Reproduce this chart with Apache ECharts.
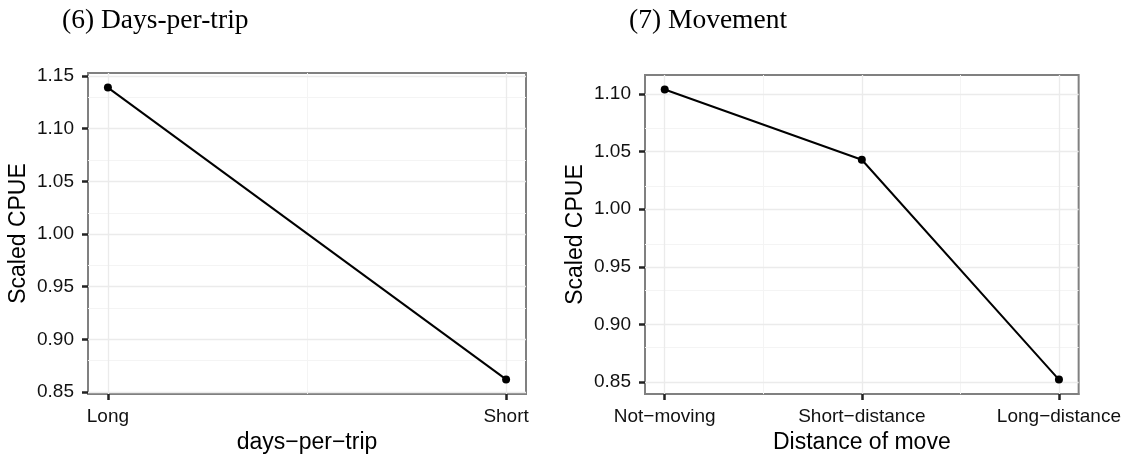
<!DOCTYPE html>
<html>
<head>
<meta charset="utf-8">
<script src="https://cdn.jsdelivr.net/npm/echarts@6/dist/echarts.min.js"></script>
<style>
html,body{margin:0;padding:0;background:#fff;}
#c{width:1124px;height:459px;}
</style>
</head>
<body>
<div id="c"></div>
<script>
// ---- data ----
const titleLeft = '(6) Days-per-trip';
const titleRight = '(7) Movement';
const catsLeft = ['Long', 'Short'];
const valsLeft = [1.139, 0.862];
const catsRight = ['Not\u2212moving', 'Short\u2212distance', 'Long\u2212distance'];
const valsRight = [1.104, 1.043, 0.852];
const yTicksLeft = [0.85, 0.90, 0.95, 1.00, 1.05, 1.10, 1.15];
const yMinorLeft = [0.875, 0.925, 0.975, 1.025, 1.075, 1.125];
const yTicksRight = [0.85, 0.90, 0.95, 1.00, 1.05, 1.10];
const yMinorRight = [0.875, 0.925, 0.975, 1.025, 1.075];
const xNameLeft = 'days\u2212per\u2212trip';
const xNameRight = 'Distance of move';
const yName = 'Scaled CPUE';

// ---- helpers ----
function expand(vals, f) {
  const lo = Math.min(...vals), hi = Math.max(...vals);
  const d = (hi - lo) * f;
  return [lo - d, hi + d];
}
const labelColor = '#111';
const tickStyle = { show: true, inside: false, length: 6, lineStyle: { color: '#222', width: 2.5 } };
const axisLineStyle = { show: true, onZero: false, lineStyle: { color: '#808080', width: 2 } };

function xAxisFor(idx, cats, name, gap) {
  const n = cats.length - 1;
  const pad = n * 0.05;
  const vals = cats.map((c, i) => i);
  return {
    type: 'value', gridIndex: idx, min: -pad, max: n + pad,
    axisLine: axisLineStyle,
    axisTick: Object.assign({ customValues: vals }, tickStyle),
    axisLabel: { customValues: vals, formatter: v => cats[Math.round(v)], color: labelColor,
      fontFamily: 'Liberation Sans', fontSize: 19, margin: 13 },
    splitLine: { show: false },
    name: name, nameLocation: 'middle', nameGap: gap,
    nameTextStyle: { fontFamily: 'Liberation Sans', fontSize: 23, color: '#000' }
  };
}
function yAxisFor(idx, vals, ticks) {
  const r = expand(vals, 0.05);
  return {
    type: 'value', gridIndex: idx, min: r[0], max: r[1],
    axisLine: axisLineStyle,
    axisTick: Object.assign({ customValues: ticks }, tickStyle),
    axisLabel: { customValues: ticks, formatter: v => v.toFixed(2), color: labelColor,
      fontFamily: 'Liberation Sans', fontSize: 19, margin: 14 },
    splitLine: { show: false },
    name: yName, nameLocation: 'middle', nameRotate: 90, nameGap: 58,
    nameTextStyle: { fontFamily: 'Liberation Sans', fontSize: 23, color: '#000' }
  };
}
function gridSeries(idx, cats, vals, yMajor, yMinor) {
  const n = cats.length - 1;
  const xMajor = cats.map((c, i) => i);
  const xMinor = [];
  for (let i = 0; i < n; i++) xMinor.push(i + 0.5);
  const major = { color: '#ebebeb', width: 1.3, type: 'solid' };
  const minor = { color: '#f4f4f4', width: 1, type: 'solid' };
  const d = [];
  yMinor.forEach(v => d.push({ yAxis: v, lineStyle: minor }));
  xMinor.forEach(v => d.push({ xAxis: v, lineStyle: minor }));
  yMajor.forEach(v => d.push({ yAxis: v, lineStyle: major }));
  xMajor.forEach(v => d.push({ xAxis: v, lineStyle: major }));
  return {
    type: 'line', xAxisIndex: idx, yAxisIndex: idx, silent: true, z: 1,
    data: vals.map((v, i) => [i, v]), showSymbol: false, lineStyle: { opacity: 0 },
    markLine: { silent: true, symbol: 'none', label: { show: false }, animation: false,
      emphasis: { disabled: true }, data: d }
  };
}
function dataSeries(idx, vals) {
  return {
    type: 'line', xAxisIndex: idx, yAxisIndex: idx, z: 10,
    data: vals.map((v, i) => [i, v]),
    symbol: 'circle', symbolSize: 8,
    itemStyle: { color: '#000' },
    lineStyle: { color: '#000', width: 2 }
  };
}

const chart = echarts.init(document.getElementById('c'), null, { renderer: 'canvas' });
chart.setOption({
  animation: false,
  backgroundColor: '#fff',
  title: [
    { text: titleLeft, left: 62, top: 7, padding: 0, textStyle: { fontFamily: 'Liberation Serif', fontWeight: 'normal', fontSize: 27.5, color: '#000' } },
    { text: titleRight, left: 629, top: 7, padding: 0, textStyle: { fontFamily: 'Liberation Serif', fontWeight: 'normal', fontSize: 27.5, color: '#000' } }
  ],
  grid: [
    { left: 88, right: 1124 - 526, top: 73, bottom: 459 - 394, show: true, borderColor: '#808080', borderWidth: 2, backgroundColor: '#fff' },
    { left: 645, right: 1124 - 1082, top: 75, bottom: 459 - 398, show: true, borderColor: '#808080', borderWidth: 2, backgroundColor: '#fff' }
  ],
  xAxis: [ xAxisFor(0, catsLeft, xNameLeft, 37), xAxisFor(1, catsRight, xNameRight, 35) ],
  yAxis: [ yAxisFor(0, valsLeft, yTicksLeft), yAxisFor(1, valsRight, yTicksRight) ],
  series: [
    gridSeries(0, catsLeft, valsLeft, yTicksLeft, yMinorLeft),
    gridSeries(1, catsRight, valsRight, yTicksRight, yMinorRight),
    dataSeries(0, valsLeft),
    dataSeries(1, valsRight)
  ]
});
</script>
</body>
</html>
